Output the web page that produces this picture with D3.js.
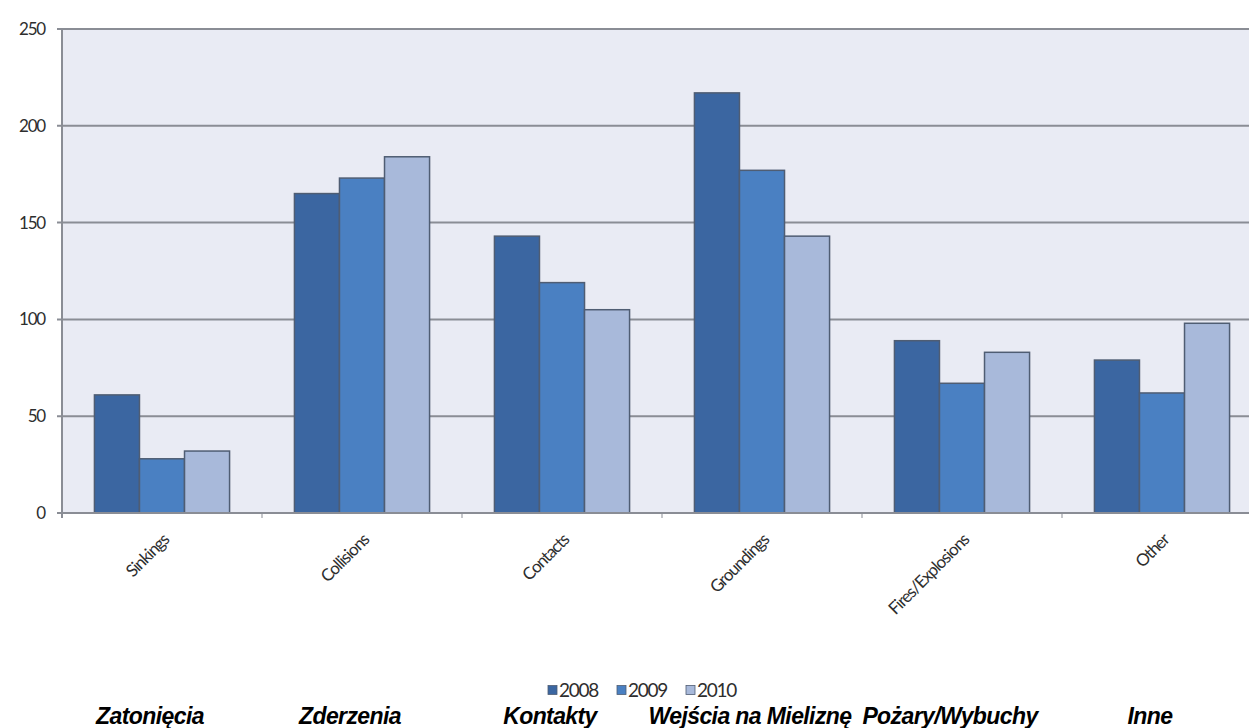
<!DOCTYPE html>
<html lang="pl">
<head>
<meta charset="UTF-8" />
<title>Wypadki</title>
<script src="https://d3js.org/d3.v7.js"></script>
<style>
  body { margin: 0; background: #fff; }
  svg { display: block; }
</style>
</head>
<body>
<script>
    var categories = ["Sinkings", "Collisions", "Contacts", "Groundings", "Fires/Explosions", "Other"];
    var polishLabels = ["Zatonięcia", "Zderzenia", "Kontakty", "Wejścia na Mieliznę", "Pożary/Wybuchy", "Inne"];
    var years = ["2008", "2009", "2010"];
    var values2008 = [61, 165, 143, 217, 89, 79];
    var values2009 = [28, 173, 119, 177, 67, 62];
    var values2010 = [32, 184, 105, 143, 83, 98];
    var yTicks = [0, 50, 100, 150, 200, 250];

    var w = 1249;
    var h = 728;
    var plotLeft = 62, plotTop = 29, plotBottom = 513;
    var colors = ["#3b66a1", "#4a80c2", "#a8b9da"];
    var labelFont = "Lato, sans-serif";

    var series = [values2008, values2009, values2010];

    var svg = d3.select("body")
                .append("svg")
                .attr("width", w)
                .attr("height", h);

    var xScale = d3.scaleBand()
        .domain(categories)
        .range([plotLeft, plotLeft + 200 * categories.length]);

    var inner = d3.scaleBand()
        .domain(years)
        .range([0, xScale.bandwidth()])
        .paddingOuter(0.72)
        .paddingInner(0);

    var yScale = d3.scaleLinear()
        .domain([0, 250])
        .range([plotBottom, plotTop]);

    // plot background
    svg.append("rect")
        .attr("x", plotLeft)
        .attr("y", plotTop)
        .attr("width", w - plotLeft + 10)
        .attr("height", plotBottom - plotTop)
        .attr("fill", "#e9ebf4");

    // gridlines
    svg.selectAll(".grid")
        .data(yTicks.slice(1))
        .enter()
        .append("line")
        .attr("x1", plotLeft - 5)
        .attr("x2", w + 5)
        .attr("y1", function(d){ return yScale(d); })
        .attr("y2", function(d){ return yScale(d); })
        .attr("stroke", "#8a8d95")
        .attr("stroke-width", 2);

    // bars
    var groups = svg.selectAll(".cat")
        .data(categories)
        .enter()
        .append("g")
        .attr("transform", function(d){ return "translate(" + xScale(d) + ",0)"; });

    groups.selectAll("rect")
        .data(function(d, i){
            return years.map(function(y, j){ return {year: y, value: series[j][i], j: j}; });
        })
        .enter()
        .append("rect")
        .attr("x", function(d){ return inner(d.year); })
        .attr("y", function(d){ return yScale(d.value); })
        .attr("width", inner.bandwidth())
        .attr("height", function(d){ return plotBottom - yScale(d.value); })
        .attr("fill", function(d){ return colors[d.j]; })
        .attr("stroke", "#4f5d73")
        .attr("stroke-width", 1.5);

    // y axis
    svg.append("line")
        .attr("x1", plotLeft).attr("x2", plotLeft)
        .attr("y1", plotTop).attr("y2", plotBottom + 5)
        .attr("stroke", "#8a8d95")
        .attr("stroke-width", 2);

    svg.selectAll(".ytick")
        .data(yTicks)
        .enter()
        .append("text")
        .attr("x", 45)
        .attr("y", function(d){ return yScale(d) + 6; })
        .attr("text-anchor", "end")
        .attr("font-family", labelFont)
        .attr("font-size", 17)
        .attr("letter-spacing", -1.2)
        .attr("fill", "#2e2e2e")
        .text(function(d){ return d; });

    // x axis
    svg.append("line")
        .attr("x1", plotLeft - 5).attr("x2", w + 5)
        .attr("y1", plotBottom).attr("y2", plotBottom)
        .attr("stroke", "#8a8d95")
        .attr("stroke-width", 2);

    svg.selectAll(".xtick")
        .data(categories.slice(1))
        .enter()
        .append("line")
        .attr("x1", function(d){ return xScale(d); })
        .attr("x2", function(d){ return xScale(d); })
        .attr("y1", plotBottom)
        .attr("y2", plotBottom + 5)
        .attr("stroke", "#8a8d95")
        .attr("stroke-width", 1);

    svg.selectAll(".xlabel")
        .data(categories)
        .enter()
        .append("text")
        .attr("transform", function(d){
            return "translate(" + (xScale(d) + xScale.bandwidth() / 2 + 8) + "," + (plotBottom + 28) + ") rotate(-45)";
        })
        .attr("text-anchor", "end")
        .attr("font-family", labelFont)
        .attr("font-size", 17)
        .attr("letter-spacing", -1.1)
        .attr("fill", "#2e2e2e")
        .text(function(d){ return d; });

    // legend
    var legend = svg.append("g")
        .attr("transform", "translate(548,690)");

    var items = legend.selectAll("g")
        .data(years)
        .enter()
        .append("g")
        .attr("transform", function(d, i){ return "translate(" + (i * 69) + ",0)"; });

    items.append("rect")
        .attr("x", 0).attr("y", -4.5)
        .attr("width", 9).attr("height", 9)
        .attr("fill", function(d, i){ return colors[i]; })
        .attr("stroke", "#4f5d73")
        .attr("stroke-width", 0.8);

    items.append("text")
        .attr("x", 11).attr("y", 6.5)
        .attr("font-family", labelFont)
        .attr("font-size", 19)
        .attr("letter-spacing", -1.3)
        .attr("fill", "#2e2e2e")
        .text(function(d){ return d; });

    // polish labels
    svg.selectAll(".pl")
        .data(polishLabels)
        .enter()
        .append("text")
        .attr("x", function(d, i){ return xScale(categories[i]) + xScale.bandwidth() / 2 - 12; })
        .attr("y", 724)
        .attr("text-anchor", "middle")
        .attr("font-family", "'Liberation Sans', Arial, sans-serif")
        .attr("font-style", "italic")
        .attr("font-weight", "bold")
        .attr("font-size", 23)
        .attr("letter-spacing", -0.6)
        .attr("fill", "#000")
        .text(function(d){ return d; });
</script>
</body>
</html>
